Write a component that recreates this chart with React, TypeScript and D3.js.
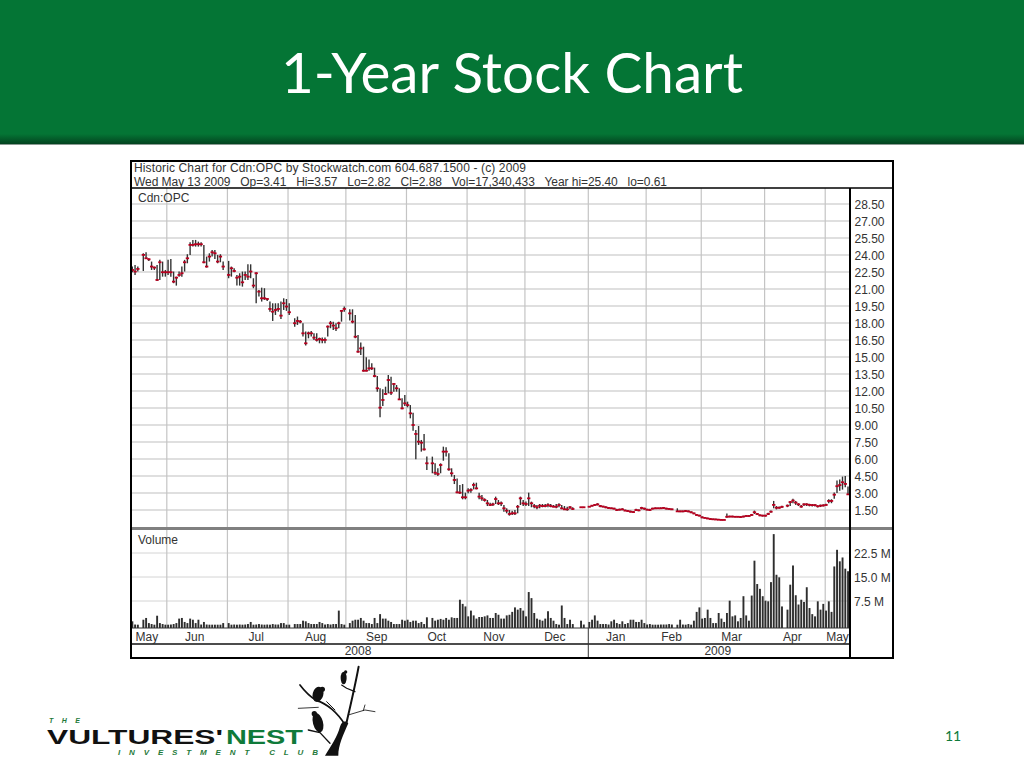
import React from "react";
import * as d3 from "d3";

const N = null;
const highs: (number | null)[] = [
  22.98,23.12,22.98,N,24.15,24.24,23.71,23.42,22.98,23.12,
  23.57,23.42,22.68,23.57,23.65,22.54,22.09,22.54,22.98,23.57,
  24.07,25.12,25.33,25.33,25.18,25.12,24.89,23.86,24.15,24.45,
  24.45,24.01,24.07,23.42,N,23.48,22.98,22.83,22.24,22.39,
  22.54,22.54,23.18,23.18,21.95,22.48,20.92,21.12,21.07,20.18,
  19.89,19.74,19.74,19.74,19.89,20.18,20.12,19.74,N,18.42,
  18.57,18.27,17.98,17.24,17.24,17.3,17.09,17.09,16.71,16.71,
  16.71,17.77,18.18,18.12,17.98,18.12,19.15,19.45,N,19.21,
  19.21,18.71,16.94,16.29,15.91,14.97,14.79,14.44,14.06,13.32,
  12.24,12.15,12.38,13.41,13.26,12.68,12.53,12.24,11.35,11.65,
  11.06,10.76,10.09,8.56,8.91,7.68,8.21,6.21,N,6.21,
  5.62,5.18,5.62,7.09,7.03,6.5,5.18,4.59,4.29,3.71,
  3.79,3.03,3.41,3.41,3.91,3.91,3.03,2.82,2.53,2.38,
  2.15,2.15,2.68,2.38,2.24,1.94,1.65,1.5,1.44,1.5,
  1.94,2.68,2.38,2.24,3.03,2.24,2.03,1.94,2.03,2.03,
  2.03,2.09,2.03,1.94,2.03,2.09,1.94,1.85,1.79,1.85,
  1.74,N,N,1.79,1.79,N,1.85,1.94,2.03,2.1,
  1.95,1.88,1.82,1.75,1.72,1.7,1.6,1.62,1.65,1.55,
  1.5,1.45,1.4,1.6,1.55,1.78,1.7,1.62,1.6,1.7,
  1.73,1.73,1.74,1.76,1.7,1.67,1.64,N,1.65,1.46,
  1.46,1.5,1.46,1.38,1.28,1.15,1.08,0.95,0.88,0.83,
  0.78,0.76,0.74,0.72,0.7,0.68,1.2,1.0,1.0,0.98,
  0.98,0.96,1.0,1.05,1.05,1.15,1.45,1.23,1.12,1.08,
  1.08,1.25,1.45,2.3,1.85,1.8,1.88,N,1.98,2.3,
  2.5,2.3,2.1,1.95,2.1,2.1,2.05,2.03,2.03,1.93,
  1.98,2.0,2.05,2.45,2.45,3.05,4.1,4.2,4.45,4.5,3.57,
];
const lows: (number | null)[] = [
  22.48,22.24,22.54,N,22.59,23.71,23.48,22.68,22.68,21.71,
  21.8,22.09,22.09,22.24,22.09,21.51,21.3,22.09,22.09,22.54,
  23.27,24.01,24.74,24.74,24.74,24.74,23.27,22.89,23.42,23.86,
  23.65,23.27,23.36,22.68,N,21.95,22.09,22.48,21.3,21.3,
  21.21,21.8,21.8,21.95,21.07,19.74,20.33,19.89,20.04,19.95,
  19.0,18.18,18.71,19.0,18.36,19.15,19.07,18.71,N,17.68,
  17.83,17.98,16.8,16.01,16.65,16.8,16.51,16.36,16.21,16.21,
  16.21,16.8,17.54,17.39,17.3,17.54,18.12,19.0,N,18.21,
  17.97,16.65,15.38,15.18,13.71,13.71,13.79,13.85,13.21,11.94,
  9.68,10.68,11.65,11.79,11.65,11.94,11.94,11.21,10.38,10.68,
  10.56,9.59,8.5,5.97,7.24,6.65,6.74,5.03,N,4.74,
  4.59,4.5,4.74,5.85,6.21,4.97,4.44,3.79,2.97,2.91,
  2.44,2.44,2.97,3.03,3.32,3.32,2.44,2.32,2.24,1.85,
  1.85,1.85,2.03,1.94,1.85,1.35,1.21,1.0,1.06,1.06,
  1.21,1.94,1.85,1.85,1.85,1.74,1.65,1.56,1.65,1.74,
  1.74,1.74,1.74,1.74,1.65,1.74,1.56,1.5,1.44,1.56,
  1.5,N,N,1.68,1.68,N,1.74,1.79,1.85,1.9,
  1.75,1.72,1.66,1.6,1.58,1.55,1.42,1.46,1.48,1.38,
  1.34,1.28,1.25,1.42,1.4,1.55,1.52,1.45,1.42,1.55,
  1.58,1.58,1.58,1.6,1.55,1.52,1.5,N,1.35,1.3,
  1.3,1.34,1.3,1.22,1.12,1.0,0.94,0.78,0.74,0.7,
  0.66,0.64,0.63,0.62,0.61,0.61,0.82,0.85,0.85,0.83,
  0.83,0.8,0.85,0.9,0.9,1.0,1.15,1.05,0.95,0.92,
  0.92,1.05,1.25,1.65,1.55,1.6,1.68,N,1.75,1.85,
  2.1,1.95,1.85,1.7,1.85,1.85,1.82,1.8,1.8,1.72,
  1.76,1.8,1.85,2.1,2.1,2.5,3.0,3.2,3.3,3.5,2.82,
];
const closes: (number | null)[] = [
  22.68,22.54,22.77,N,24.01,23.71,23.62,22.98,22.89,21.8,
  23.36,22.48,22.48,22.48,22.48,21.65,22.0,22.24,22.39,23.36,
  23.71,24.89,24.89,24.95,24.95,24.95,23.36,22.98,23.86,24.24,
  24.15,23.42,23.86,22.98,N,22.24,22.83,22.59,22.0,22.09,
  21.59,22.24,22.09,22.54,21.3,22.39,20.77,20.18,20.18,20.12,
  19.24,19.0,19.15,19.24,18.65,19.74,19.45,18.95,N,17.98,
  18.18,18.12,17.09,16.21,17.09,17.09,16.71,16.51,16.59,16.51,
  16.51,17.68,17.98,17.77,17.54,17.98,19.07,19.24,N,18.85,
  18.12,16.79,15.47,15.76,13.79,13.79,14.0,14.0,13.32,12.24,
  10.53,11.21,11.74,12.97,11.85,12.62,12.24,11.26,10.47,10.91,
  10.76,10.03,9.0,8.21,7.53,7.44,6.85,5.62,N,5.62,
  4.79,4.68,5.47,6.65,6.65,5.09,4.74,4.15,3.06,3.03,
  2.62,2.62,3.21,3.27,3.71,3.41,2.68,2.53,2.38,2.09,
  1.94,2.0,2.47,2.09,2.09,1.65,1.44,1.15,1.21,1.21,
  1.79,2.53,2.09,2.03,2.53,2.09,1.85,1.74,1.88,1.85,
  1.85,1.94,1.85,1.79,1.79,1.94,1.65,1.56,1.56,1.74,
  1.59,N,N,1.74,1.74,N,1.79,1.88,1.94,2.0,
  1.85,1.8,1.74,1.68,1.65,1.62,1.5,1.53,1.56,1.45,
  1.41,1.35,1.32,1.5,1.47,1.68,1.62,1.53,1.5,1.62,
  1.65,1.65,1.65,1.68,1.62,1.59,1.56,N,1.38,1.38,
  1.38,1.41,1.38,1.3,1.2,1.06,1.0,0.85,0.8,0.75,
  0.7,0.68,0.66,0.64,0.62,0.62,0.9,0.92,0.92,0.9,
  0.9,0.88,0.92,0.97,0.97,1.06,1.3,1.15,1.03,1.0,
  1.0,1.15,1.35,1.95,1.7,1.7,1.78,N,1.88,2.2,
  2.33,2.15,2.0,1.8,2.0,2.0,1.95,1.93,1.93,1.83,
  1.88,1.9,1.95,2.3,2.3,2.85,3.6,3.7,3.95,3.8,2.88,
];
const volumes: (number | null)[] = [
  1.15,.15,.1,N,1.65,2.2,.6,.3,.1,2.9,
  .6,.3,.1,.1,.15,.3,.6,2.0,2.2,.95,
  .6,2.0,1.65,.6,1.65,.15,.95,.15,.1,.1,
  .1,.1,.1,.6,N,.6,.1,.15,.1,.15,
  .1,.15,.3,.95,.1,.15,.3,.15,.1,.15,
  .1,.3,.15,.15,.6,.6,.1,.1,N,.3,
  .3,.3,1.35,1.15,.6,.3,.3,.3,.95,.6,
  .15,.3,.15,.3,.3,4.5,.3,.1,N,.6,
  1.35,1.65,1.65,2.2,1.35,.6,.6,.3,2.2,.6,
  3.4,2.0,2.0,1.35,.95,.3,.3,.3,1.65,1.35,
  1.65,.95,1.35,1.35,.6,.95,.3,2.4,N,2.2,
  1.35,1.65,1.9,1.65,2.2,1.65,2.4,2.2,2.2,7.9,
  6.6,5.8,2.7,4.5,3.0,2.0,2.5,2.5,2.7,3.0,
  2.2,2.2,3.75,3.2,2.0,2.0,3.0,3.2,4.1,5.5,
  4.8,5.3,4.5,2.7,10.3,8.4,3.75,2.0,1.65,1.35,
  2.0,4.3,2.2,1.35,.3,.1,6.1,2.2,.3,1.65,
  .3,N,N,1.35,.15,N,.95,1.65,3.0,1.35,
  .3,.3,.3,.15,1.15,1.65,.6,.3,1.15,.3,
  .6,1.65,1.65,.95,.95,1.65,.6,.15,.3,.1,
  .1,.1,.15,.15,.15,.3,.15,N,.1,1.65,
  .15,.1,.3,.1,1.35,4.1,5.5,2.0,2.2,4.8,
  2.2,.6,.6,3.75,2.0,.95,3.75,7.6,2.7,3.0,
  1.15,2.2,9.0,3.0,1.35,9.2,20.1,12.8,11.3,9.0,
  7.6,7.4,13.4,28.4,15.7,14.9,5.8,N,4.8,12.6,
  18.6,9.3,6.4,7.9,7.2,11.8,5.3,3.4,2.7,7.4,
  4.8,6.6,4.5,7.4,4.1,18.3,23.5,19.9,21.1,17.6,16.8,
];
const priceTicks = [28.5,27,25.5,24,22.5,21,19.5,18,16.5,15,13.5,12,10.5,9,7.5,6,4.5,3,1.5];
const volumeTicks = [7.5,15,22.5];
const monthStarts = [13,35,57,78,100,122,143,166,187,207,230,252];
const monthLabels = ["May","Jun","Jul","Aug","Sep","Oct","Nov","Dec","Jan","Feb","Mar","Apr","May"];
const monthLabelAt = [5.3,22.7,45,66.6,88.8,110.6,131.4,153.5,175.6,195.9,217.7,239.8,256.2];
const yearLabels = [{ t: "2008", at: 82 }, { t: "2009", at: 212.7 }];
const yearBreak = 166;

const sans = "'Liberation Sans', Arial, sans-serif";
const L = 131, R = 850, F = 893, T = 161, HB = 188, SEP = 528.5, VB = 628, MB = 644, B = 658;

const x = d3.scaleLinear().domain([0, 260]).range([132.3, 848]);
const xGrid = d3.scaleLinear().domain([0, 261]).range([131, 850]);
const yP = d3.scaleLinear().domain([1.5, 28.5]).range([510, 204]);
const yV = d3.scaleLinear().domain([0, 22.5]).range([625, 553]);

export default function App() {
  const days = d3.range(highs.length);
  return (
    <svg width={1024} height={768} style={{ position: "absolute", left: 0, top: 0, background: "#fff" }}>
      <defs>
        <linearGradient id="bn" x1="0" y1="0" x2="0" y2="1">
          <stop offset="0" stopColor="#047535" />
          <stop offset="0.93" stopColor="#047535" />
          <stop offset="1" stopColor="#03431f" />
        </linearGradient>
      </defs>
      <rect x={0} y={0} width={1024} height={144} fill="url(#bn)" />
      <rect x={0} y={144} width={1024} height={1} fill="#8a9a92" />
      <text x={512} y={93} textAnchor="middle" fill="#fff" fontFamily="Lato, 'Open Sans', sans-serif" fontSize={56} textLength={462} lengthAdjust="spacingAndGlyphs">1-Year Stock Chart</text>

      <rect x={L} y={T} width={F - L} height={B - T} fill="#fff" />
      {priceTicks.map(t => <line key={t} x1={L} x2={R} y1={yP(t)} y2={yP(t)} stroke="#d4d4d4" strokeWidth={1.4} />)}
      {volumeTicks.map(t => <line key={t} x1={L} x2={R} y1={yV(t)} y2={yV(t)} stroke="#d4d4d4" strokeWidth={1} />)}
      {monthStarts.map(m => <line key={m} x1={xGrid(m)} x2={xGrid(m)} y1={HB} y2={VB} stroke="#c4c4c4" strokeWidth={1.2} />)}

      {days.map(i => highs[i] == null ? null : (
        <line key={i} x1={x(i)} x2={x(i)} y1={yP(highs[i]!)} y2={yP(lows[i]!)} stroke="#333" strokeWidth={1.4} />
      ))}
      {days.map(i => closes[i] == null ? null : (
        <line key={i} x1={x(i) - 1.6} x2={x(i) + 1.7} y1={yP(closes[i]!)} y2={yP(closes[i]!)} stroke="#b8001f" strokeWidth={1.8} />
      ))}

      {days.map(i => volumes[i] == null ? null : (
        <rect key={i} x={x(i) - 0.9} width={1.9} y={yV(volumes[i]!)} height={VB - yV(volumes[i]!)} fill="#2e2e2e" />
      ))}

      <line x1={L} x2={F} y1={SEP} y2={SEP} stroke="#808080" strokeWidth={3} />
      <line x1={L} x2={R} y1={VB} y2={VB} stroke="#333" strokeWidth={1} />
      <line x1={L} x2={R} y1={MB} y2={MB} stroke="#111" strokeWidth={1.5} />
      <line x1={L} x2={F} y1={HB} y2={HB} stroke="#000" strokeWidth={1.5} />
      <line x1={R} x2={R} y1={HB} y2={B} stroke="#000" strokeWidth={2} />
      <line x1={xGrid(yearBreak)} x2={xGrid(yearBreak)} y1={VB} y2={B} stroke="#333" strokeWidth={1} />
      <rect x={L} y={T} width={F - L} height={B - T} fill="none" stroke="#000" strokeWidth={2} />

      <g fontFamily={sans} fontSize={12} fill="#333">
        <text x={134} y={172} textLength={392} lengthAdjust="spacing">Historic Chart for Cdn:OPC by Stockwatch.com 604.687.1500 - (c) 2009</text>
        <text x={134} y={185.5} textLength={533} lengthAdjust="spacing" xmlSpace="preserve">{"Wed May 13 2009   Op=3.41   Hi=3.57   Lo=2.82   Cl=2.88   Vol=17,340,433   Year hi=25.40   lo=0.61"}</text>
        <text x={138} y={202}>Cdn:OPC</text>
        <text x={138} y={544}>Volume</text>
        {priceTicks.map(t => <text key={t} x={854.5} y={yP(t) + 4.5}>{t.toFixed(2)}</text>)}
        {volumeTicks.map(t => <text key={t} x={854} y={yV(t) + 4.5}>{t.toFixed(1)} M</text>)}
        {monthLabels.map((m, i) => <text key={i} x={x(monthLabelAt[i])} y={640.5} textAnchor="middle">{m}</text>)}
        {yearLabels.map(l => <text key={l.t} x={x(l.at)} y={655} textAnchor="middle">{l.t}</text>)}
      </g>

      <g fontFamily={sans}>
        <text x={49} y={723} fontSize={7} fontStyle="italic" fontWeight="bold" fill="#1f7a3a" textLength={31} lengthAdjust="spacing">THE</text>
        <text x={47} y={743.5} fontSize={21} fontWeight="bold" fill="#111" textLength={176} lengthAdjust="spacingAndGlyphs">VULTURES'</text>
        <text x={226} y={743.5} fontSize={21} fontWeight="bold" fill="#0f7a3a" textLength={77} lengthAdjust="spacingAndGlyphs">NEST</text>
        <text x={118} y={755} fontSize={8} fontStyle="italic" fontWeight="bold" fill="#1f7a3a" textLength={200} lengthAdjust="spacing">INVESTMENT  CLUB</text>
      </g>
      <g transform="translate(30,660) scale(0.3333)" fill="none" stroke="#111" strokeLinecap="round" strokeLinejoin="round">
        <path d="M885,287 L925,287 C925,255 940,225 955,190 C945,180 935,185 930,200 C922,230 905,255 885,287 Z" fill="#111" stroke="none" />
        <path d="M948,195 C962,135 975,80 986,20" strokeWidth={6} />
        <path d="M945,195 C925,160 890,130 860,122 C840,110 825,95 810,75" strokeWidth={5} />
        <path d="M900,250 L870,218 L835,210" strokeWidth={4} />
        <path d="M955,165 L1005,150 L1035,155 M1000,152 L1005,135" strokeWidth={2.5} />
        <path d="M975,95 L950,85 L935,75" strokeWidth={3.5} />
        <path d="M865,142 L805,145" strokeWidth={2.5} />
        <path d="M890,125 L915,150" strokeWidth={3} />
        <g fill="#111" stroke="none">
          <ellipse cx={941} cy={54} rx={9} ry={19} />
          <circle cx={947} cy={36} r={5} />
          <ellipse cx={864} cy={103} rx={16} ry={23} transform="rotate(15 864 103)" />
          <circle cx={877} cy={88} r={8} />
          <ellipse cx={864} cy={188} rx={15} ry={30} transform="rotate(-15 864 188)" />
          <circle cx={853} cy={161} r={8} />
        </g>
      </g>
      <text x={945} y={741} fontFamily="Lato, sans-serif" fontSize={14} fill="#0f7a3a">11</text>
    </svg>
  );
}
